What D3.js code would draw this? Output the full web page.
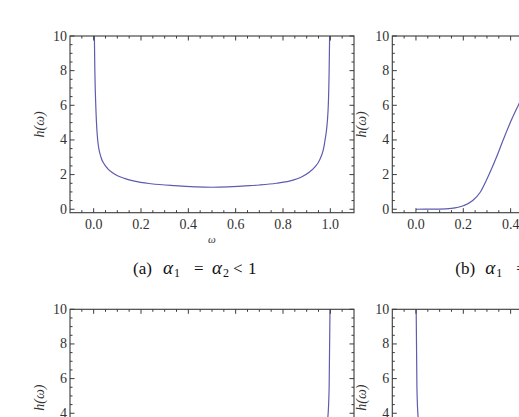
<!DOCTYPE html>
<html>
<head>
<meta charset="utf-8">
<script src="https://cdn.jsdelivr.net/npm/d3@7"></script>
<style>
body { margin: 0; background: #fff; }
svg { display: block; }
text { font-family: "Liberation Serif", "DejaVu Serif", serif; }
</style>
</head>
<body>
<svg width="519" height="417"></svg>
<script>
// values
var xTicks = [0.0, 0.2, 0.4, 0.6, 0.8, 1.0];
var yTicks = [0, 2, 4, 6, 8, 10];

var omegaA = [0.002, 0.005, 0.01, 0.017, 0.031, 0.045, 0.059, 0.08, 0.101, 0.13, 0.172, 0.243, 0.342, 0.5, 0.658, 0.7, 0.772, 0.842, 0.88, 0.912, 0.935, 0.955, 0.976, 0.99, 0.995, 0.998];
var hA     = [11, 8.0, 5.6, 4.0, 3.0, 2.6, 2.35, 2.1, 1.93, 1.78, 1.62, 1.47, 1.36, 1.27, 1.36, 1.4, 1.5, 1.68, 1.88, 2.15, 2.45, 2.85, 3.85, 5.6, 8.0, 11];

var omegaB = [0, 0.1, 0.15, 0.2, 0.24, 0.27, 0.3, 0.34, 0.37, 0.4, 0.435, 0.46];
var hB     = [0, 0.01, 0.05, 0.2, 0.5, 0.95, 1.75, 3.0, 4.05, 5.05, 6.08, 6.8];

var omegaC = [0.97, 0.989, 0.995, 0.999];
var hC     = [2.5, 3.7, 5.5, 10.5];

var omegaD = [0.0005, 0.004, 0.0097, 0.03];
var hD     = [10.5, 5.5, 3.7, 2.5];

var captions = ["(a)", "(b)"];

var svg = d3.select("svg");
var w = 284, h = 176.7;
var curveColor = "#5c5cb0";
var frameColor = "#3a3a3a";

var defs = svg.append("defs");

var panel = function(id, dx, dy, xs, ys, cap) {
  var g = svg.append("g").attr("transform", "translate(" + dx + "," + dy + ")");

  var x = d3.scaleLinear().domain([-0.1, 1.1]).range([0, w]);
  var y = d3.scaleLinear().domain([-0.2, 10]).range([h, 0]);

  defs.append("clipPath").attr("id", "clip" + id)
    .append("rect").attr("width", w).attr("height", h);

  var line = d3.line()
    .x(function(d) { return x(d[0]); })
    .y(function(d) { return y(d[1]); })
    .curve(d3.curveMonotoneX);

  var pts = xs.map(function(v, i) { return [v, ys[i]]; });

  g.append("path")
    .attr("clip-path", "url(#clip" + id + ")")
    .attr("d", line(pts))
    .attr("fill", "none")
    .attr("stroke", curveColor)
    .attr("stroke-width", 1.2);

  // minor ticks
  var xMinor = d3.range(-0.05, 1.1, 0.05).filter(function(v) { return Math.abs(Math.round(v / 0.2) * 0.2 - v) > 1e-6; });
  var yMinor = d3.range(0.5, 10, 0.5).filter(function(v) { return v % 2 != 0; });

  var tk = g.append("g").attr("stroke", frameColor).attr("stroke-width", 1);
  xTicks.forEach(function(v) {
    tk.append("line").attr("x1", x(v)).attr("x2", x(v)).attr("y1", h).attr("y2", h - 4.5);
    tk.append("line").attr("x1", x(v)).attr("x2", x(v)).attr("y1", 0).attr("y2", 4.5);
  });
  xMinor.forEach(function(v) {
    tk.append("line").attr("x1", x(v)).attr("x2", x(v)).attr("y1", h).attr("y2", h - 2.5);
    tk.append("line").attr("x1", x(v)).attr("x2", x(v)).attr("y1", 0).attr("y2", 2.5);
  });
  yTicks.forEach(function(v) {
    tk.append("line").attr("x1", 0).attr("x2", 4.5).attr("y1", y(v)).attr("y2", y(v));
    tk.append("line").attr("x1", w).attr("x2", w - 4.5).attr("y1", y(v)).attr("y2", y(v));
  });
  yMinor.forEach(function(v) {
    tk.append("line").attr("x1", 0).attr("x2", 2.5).attr("y1", y(v)).attr("y2", y(v));
    tk.append("line").attr("x1", w).attr("x2", w - 2.5).attr("y1", y(v)).attr("y2", y(v));
  });

  g.append("rect").attr("width", w).attr("height", h)
    .attr("fill", "none").attr("stroke", frameColor).attr("stroke-width", 1.1);

  g.selectAll(".xl").data(xTicks).enter().append("text")
    .attr("x", function(d) { return x(d); })
    .attr("y", h + 16)
    .attr("text-anchor", "middle")
    .attr("font-size", 14)
    .attr("fill", "#333")
    .text(function(d) { return d.toFixed(1); });

  g.selectAll(".yl").data(yTicks).enter().append("text")
    .attr("x", -3)
    .attr("y", function(d) { return y(d) + 4.5; })
    .attr("text-anchor", "end")
    .attr("font-size", 14)
    .attr("fill", "#333")
    .text(function(d) { return d; });

  g.append("text")
    .attr("transform", "translate(-26," + (h / 2) + ") rotate(-90)")
    .attr("text-anchor", "middle")
    .attr("font-size", 14)
    .attr("font-style", "italic")
    .attr("fill", "#333")
    .text("h(ω)");

  g.append("text")
    .attr("x", w / 2).attr("y", h + 30)
    .attr("text-anchor", "middle")
    .attr("font-size", 11)
    .attr("font-style", "italic")
    .attr("fill", "#333")
    .text("ω");

  if (cap != null) {
    var by = h + 61;
    var c = g.append("text")
      .attr("y", by)
      .attr("font-size", 17)
      .attr("fill", "#111");
    c.append("tspan").attr("x", 63).text(cap);
    c.append("tspan").attr("x", 93).attr("font-size", 19).attr("font-style", "italic").text("α");
    c.append("tspan").attr("x", 104).attr("font-size", 12).attr("dy", 3).text("1");
    c.append("tspan").attr("x", 124).attr("dy", -3).text("=");
    c.append("tspan").attr("x", 142).attr("font-size", 19).attr("font-style", "italic").text("α");
    c.append("tspan").attr("x", 153).attr("font-size", 12).attr("dy", 3).text("2");
    c.append("tspan").attr("x", 163).attr("dy", -3).text("<");
    c.append("tspan").attr("x", 178).text("1");
  }
};

panel("a", 70, 36, omegaA, hA, captions[0]);
panel("b", 392.3, 36, omegaB, hB, captions[1]);
panel("c", 70, 309.3, omegaC, hC, null);
panel("d", 392.3, 309.3, omegaD, hD, null);
</script>
</body>
</html>
